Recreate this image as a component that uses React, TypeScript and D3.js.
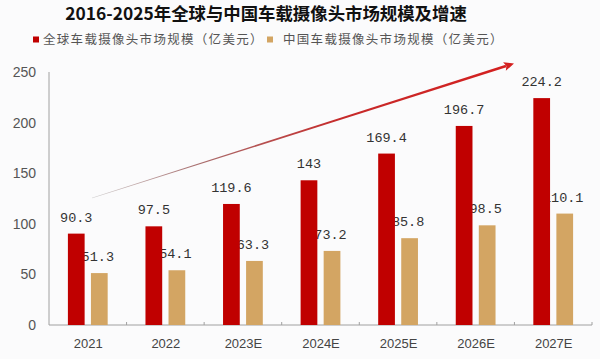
import React from "react";
import * as d3 from "d3";

const categories = ["2021", "2022", "2023E", "2024E", "2025E", "2026E", "2027E"];
const globalValues = [90.3, 97.5, 119.6, 143, 169.4, 196.7, 224.2];
const chinaValues = [51.3, 54.1, 63.3, 73.2, 85.8, 98.5, 110.1];
const globalLabels = ["90.3", "97.5", "119.6", "143", "169.4", "196.7", "224.2"];
const chinaLabels = ["51.3", "54.1", "63.3", "73.2", "85.8", "98.5", "110.1"];
const yTicks = [0, 50, 100, 150, 200, 250];
const seriesNames = ["全球车载摄像头市场规模（亿美元）", "中国车载摄像头市场规模（亿美元）"];
const title = "2016-2025年全球与中国车载摄像头市场规模及增速";

const W = 600;
const H = 359;
const RED = "#c00000";
const TAN = "#d3a563";

export default function App() {
  const x = d3.scaleBand<string>().domain(categories).range([49, 592]).paddingInner(0).paddingOuter(0);
  const x1 = d3.scaleBand<string>().domain(["g", "c"]).range([0, x.bandwidth()]).paddingInner(0.274).paddingOuter(0.82);
  const y = d3.scaleLinear().domain([0, 250]).range([325, 72]);
  const bw = x1.bandwidth();

  // arrow (decorative trend)
  const ax0 = 92, ay0 = 198, ax1 = 506, ay1 = 66;
  const dx = ax1 - ax0, dy = ay1 - ay0;
  const len = Math.hypot(dx, dy);
  const nx = -dy / len, ny = dx / len;
  const w0 = 0.35, w1 = 1.4;
  const poly = [
    [ax0 + nx * w0, ay0 + ny * w0],
    [ax1 + nx * w1, ay1 + ny * w1],
    [ax1 - nx * w1, ay1 - ny * w1],
    [ax0 - nx * w0, ay0 - ny * w0],
  ];
  const ux = dx / len, uy = dy / len;
  const tipX = 514, tipY = 63.5;
  const headL = 10, headW = 4.5;
  const bx = tipX - ux * headL, by = tipY - uy * headL;
  const head = [
    [tipX, tipY],
    [bx + nx * headW, by + ny * headW],
    [bx + ux * 2, by + uy * 2],
    [bx - nx * headW, by - ny * headW],
  ];

  const bounds = [...categories.map((c) => x(c)!), x.range()[1]];

  return (
    <svg width={W} height={H} style={{ position: "absolute", left: 0, top: 0 }}>
      <defs>
        <linearGradient id="arrowGrad" gradientUnits="userSpaceOnUse" x1={ax0} y1={ay0} x2={ax1} y2={ay1}>
          <stop offset="0" stopColor="#d0d0d0" />
          <stop offset="0.25" stopColor="#a87070" />
          <stop offset="0.6" stopColor="#c62a2a" />
          <stop offset="1" stopColor="#d42020" />
        </linearGradient>
      </defs>
      <rect x={0} y={0} width={W} height={H} fill="#fbfbfc" />
      <text x={266} y={20} textAnchor="middle" fontFamily="'Noto Sans CJK SC'" fontWeight={700} fontSize={17.4} fill="#111">
        {title}
      </text>
      {/* legend */}
      <rect x={33} y={36.5} width={6} height={6} fill={RED} />
      <text x={43} y={44} fontFamily="'Noto Sans CJK SC'" fontSize={12.5} letterSpacing={1.3} fill="#555">
        {seriesNames[0]}
      </text>
      <rect x={267} y={36.5} width={6} height={6} fill={TAN} />
      <text x={283} y={44} fontFamily="'Noto Sans CJK SC'" fontSize={12.5} letterSpacing={1.3} fill="#555">
        {seriesNames[1]}
      </text>

      {/* axes */}
      <line x1={49} x2={49} y1={72} y2={325} stroke="#a0a0a0" strokeWidth={1} />
      <line x1={49} x2={592} y1={325} y2={325} stroke="#a0a0a0" strokeWidth={1} />
      {bounds.slice(1).map((b, i) => (
        <line key={"t" + i} x1={b} x2={b} y1={325} y2={322} stroke="#a0a0a0" />
      ))}
      {yTicks.map((t) => (
        <text key={"y" + t} x={36} y={y(t) + 5} textAnchor="end" fontFamily="'Liberation Sans', Arial" fontSize={14} fill="#555">
          {t}
        </text>
      ))}
      {categories.map((c) => (
        <text key={"x" + c} x={x(c)! + x.bandwidth() / 2 + 0.5} y={348} textAnchor="middle" fontFamily="'Liberation Sans', Arial" fontSize={13} fill="#444">
          {c}
        </text>
      ))}

      {/* value labels (drawn under bars) */}
      {categories.map((c, i) => (
        <text key={"lg" + c} x={x(c)! + x1("g")! + bw / 2} y={y(globalValues[i]) - 12} textAnchor="middle" fontFamily="'Liberation Mono', monospace" fontSize={13.5} fill="#333">
          {globalLabels[i]}
        </text>
      ))}
      {categories.map((c, i) => (
        <text key={"lc" + c} x={x(c)! + x1("c")! + bw / 2 - 1.5} y={y(chinaValues[i]) - 12} textAnchor="middle" fontFamily="'Liberation Mono', monospace" fontSize={13.5} fill="#333">
          {chinaLabels[i]}
        </text>
      ))}

      {/* bars */}
      {categories.map((c, i) => (
        <rect key={"bg" + c} x={x(c)! + x1("g")!} y={y(globalValues[i])} width={bw} height={y(0) - y(globalValues[i])} fill={RED} />
      ))}
      {categories.map((c, i) => (
        <rect key={"bc" + c} x={x(c)! + x1("c")!} y={y(chinaValues[i])} width={bw} height={y(0) - y(chinaValues[i])} fill={TAN} />
      ))}

      {/* trend arrow */}
      <path d={d3.line()(poly as [number, number][])! + "Z"} fill="url(#arrowGrad)" />
      <path d={d3.line()(head as [number, number][])! + "Z"} fill="#d42020" />
    </svg>
  );
}
